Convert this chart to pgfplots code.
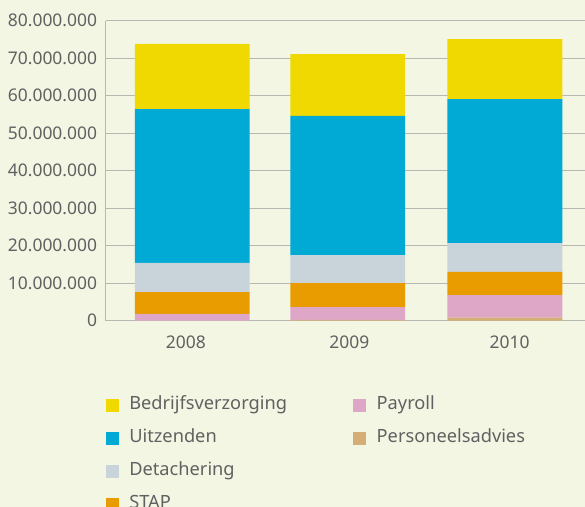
\documentclass[border=0pt]{standalone}
\usepackage{pgfplots}
\usepackage{pgfplotstable}
\pgfplotsset{compat=1.18}
\usepackage{fontspec}
\setmainfont{Noto Sans}
\definecolor{bg}{HTML}{F4F6E4}
\definecolor{gridc}{HTML}{B8B8B2}
\definecolor{textc}{HTML}{616161}
\definecolor{cBedr}{HTML}{F0D900}
\definecolor{cUitz}{HTML}{00AAD5}
\definecolor{cDet}{HTML}{C9D3DA}
\definecolor{cSTAP}{HTML}{E89C00}
\definecolor{cPay}{HTML}{DFA7C7}
\definecolor{cPers}{HTML}{D5AE77}
\pgfplotstableread{
x Pers Pay STAP Det Uitz Bedr
0.04 0 1800000 5850000 7750000 41050000 17350000
1.01 250000 3400000 6400000 7450000 37100000 16500000
1.99 800000 6050000 6150000 7700000 38400000 16000000
}\data
\pgfplotsset{sq/.style={legend image code/.code={\fill[#1] (0bp,-6bp) rectangle (12bp,6bp);}}}
\begin{document}
\begin{tikzpicture}
\useasboundingbox[fill=bg] (-105.7bp,-186.3bp) rectangle (479.3bp,320.7bp);
\begin{axis}[
  scale only axis, width=479.3bp, height=300bp,
  at={(0,0)}, anchor=south west,
  xmin=-0.5, xmax=2.49, ymin=0, ymax=80000000,
  ybar stacked, bar width=0.717,
  axis x line=bottom, axis y line=left,
  axis line style={draw=gridc, line width=1.2bp, -},
  xtick={0,1.02,2.02}, xticklabels={2008,2009,2010},
  x tick style={draw=none},
  extra x ticks={0.5,1.5}, extra x tick labels={},
  extra x tick style={major tick length=7bp, tick align=inside, tick style={draw=gridc, line width=1.2bp}},
  ytick={0,10000000,...,80000000},
  y tick style={draw=none},
  scaled y ticks=false,
  ymajorgrids, grid style={draw=gridc, line width=1.2bp},
  /pgf/number format/.cd, fixed, 1000 sep={.}, assume math mode=true, /pgfplots/.cd,
  tick label style={font=\fontsize{17.5}{20}\selectfont, text=textc},
  yticklabel style={xshift=-3bp},
  xticklabel style={yshift=-10bp},
  legend columns=2,
  legend cell align=left,
  legend style={at={(0,0)}, anchor=north west, yshift=-77bp, draw=none, fill=none, inner sep=0pt,
    column sep=11bp, /tikz/every even column/.append style={column sep=24bp}, row sep=18bp,
    nodes={inner sep=0pt, text height=12bp, text depth=3bp, text width=200bp, font=\fontsize{18.3}{20}\selectfont, text=textc}},
]
\addplot[fill=cPers, draw=none, forget plot] table[x=x, y=Pers] {\data};
\addplot[fill=cPay, draw=none, forget plot] table[x=x, y=Pay] {\data};
\addplot[fill=cSTAP, draw=none, forget plot] table[x=x, y=STAP] {\data};
\addplot[fill=cDet, draw=none, forget plot] table[x=x, y=Det] {\data};
\addplot[fill=cUitz, draw=none, forget plot] table[x=x, y=Uitz] {\data};
\addplot[fill=cBedr, draw=none, forget plot] table[x=x, y=Bedr] {\data};
\addlegendimage{sq=cBedr} \addlegendentry{Bedrijfsverzorging}
\addlegendimage{sq=cPay} \addlegendentry{Payroll}
\addlegendimage{sq=cUitz} \addlegendentry{Uitzenden}
\addlegendimage{sq=cPers} \addlegendentry{Personeelsadvies}
\addlegendimage{sq=cDet} \addlegendentry{Detachering}
\addlegendimage{empty legend} \addlegendentry{}
\addlegendimage{sq=cSTAP} \addlegendentry{STAP}
\end{axis}
\end{tikzpicture}
\end{document}
